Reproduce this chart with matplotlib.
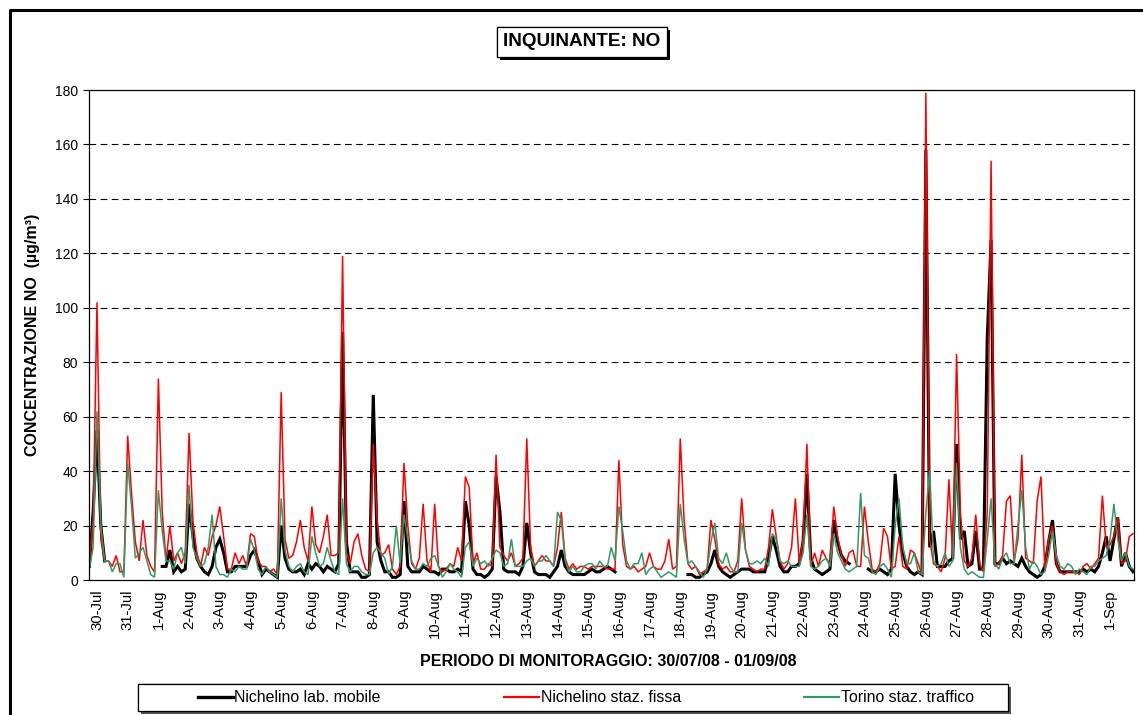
import numpy as np
import pandas as pd
import matplotlib
matplotlib.use("Agg")
import matplotlib.pyplot as plt
import matplotlib.patheffects as pe
from matplotlib.lines import Line2D
from matplotlib.patches import Rectangle

nan = np.nan

# 3-hourly values, starting 29-Jul 18:00, one row per day (00h .. 21h)
nichelino_mobile = [
    5, 25,
    55, 20, 7, nan, nan, nan, nan, nan,        # 30-Jul
    nan, nan, nan, nan, nan, nan, nan, nan,    # 31-Jul
    nan, 5, 5, 11, 3, 5, 3, 4,                 # 1-Aug
    28, 16, 8, 5, 3, 2, 5, 12,
    15, 10, 3, 3, 5, 5, 5, 5,
    9, 11, 7, 2, 4, 3, 2, 1,
    20, 8, 4, 3, 3, 4, 2, 6,                   # 5-Aug
    4, 6, 5, 3, 5, 4, 3, 6,
    91, 14, 3, 3, 3, 1, 1, 2,
    68, 14, 7, 3, 3, 1, 1, 2,
    29, 5, 3, 3, 3, 5, 4, 3,
    3, 2, 4, 4, 3, 3, 4, 3,                    # 10-Aug
    29, 20, 4, 2, 2, 1, 2, 4,
    38, 25, 4, 3, 3, 3, 2, 5,
    21, 10, 3, 2, 2, 2, 1, 3,
    5, 11, 5, 3, 2, 2, 2, 2,
    3, 4, 3, 3, 4, 5, 4, 3,                    # 15-Aug
    nan, nan, nan, nan, nan, nan, nan, nan,
    nan, nan, nan, nan, nan, nan, nan, nan,
    nan, nan, 2, 2, 1, 1, 2, 3,
    6, 11, 5, 3, 2, 1, 2, 3,
    4, 4, 4, 3, 3, 3, 3, 8,                    # 20-Aug
    16, 11, 5, 3, 3, 5, 5, 6,
    14, 39, 8, 4, 3, 2, 3, 4,
    22, 14, 9, 7, 6, nan, nan, nan,
    nan, 4, 3, 3, 4, 3, 2, 4,
    39, 20, 10, 5, 3, 2, 3, 2,                 # 25-Aug
    158, 12, 18, 5, 5, 5, 7, 8,
    50, 15, 18, 5, 6, 18, 4, 4,
    89, 125, 6, 6, 8, 6, 7, 6,
    5, 8, 5, 3, 2, 1, 2, 5,
    14, 22, 6, 3, 3, 3, 3, 3,                  # 30-Aug
    3, 4, 3, 4, 3, 5, 10, 16,
    7, 15, 23, 5, 10, 5, 3,                    # 1-Sep
]

nichelino_fissa = [
    6, 22,
    102, 15, 7, 7, 5, 9, 3, 3,                 # 30-Jul
    53, 32, 14, 7, 22, 9, 5, 3,
    74, 25, 7, 20, 7, 10, 6, 10,               # 1-Aug
    54, 22, 10, 5, 12, 9, 16, 20,
    27, 16, 4, 4, 10, 6, 9, 5,
    17, 16, 7, 5, 5, 3, 4, 2,
    69, 15, 8, 9, 14, 22, 12, 7,               # 5-Aug
    27, 13, 10, 16, 24, 9, 9, 10,
    119, 10, 6, 14, 17, 9, 4, 3,
    50, 22, 9, 10, 13, 4, 2, 5,
    43, 20, 6, 4, 8, 28, 7, 3,
    28, 5, 3, 4, 6, 5, 12, 7,                  # 10-Aug
    38, 34, 6, 10, 4, 4, 6, 5,
    46, 12, 9, 7, 10, 5, 6, 8,
    52, 12, 5, 7, 9, 7, 7, 5,
    12, 25, 8, 4, 6, 4, 5, 5,
    4, 5, 5, 5, 5, 4, 4, 4,                    # 15-Aug
    44, 13, 5, 4, 5, 3, 4, 5,
    10, 5, 4, 4, 7, 15, 4, 5,
    52, 22, 6, 4, 5, 2, 3, 4,
    22, 15, 6, 4, 5, 3, 3, 7,
    30, 11, 5, 4, 3, 4, 4, 12,                 # 20-Aug
    26, 16, 7, 4, 6, 12, 30, 6,
    15, 50, 5, 10, 5, 11, 8, 6,
    27, 16, 9, 5, 10, 11, 5, 5,
    27, 14, 4, 3, 6, 19, 16, 4,
    5, 16, 5, 4, 11, 10, 6, 2,                 # 25-Aug
    179, 15, 6, 5, 3, 8, 37, 8,
    83, 25, 7, 5, 8, 24, 6, 3,
    25, 154, 5, 6, 9, 29, 31, 7,
    15, 46, 8, 7, 6, 29, 38, 4,
    15, 20, 6, 3, 2, 3, 3, 3,                  # 30-Aug
    2, 5, 6, 4, 6, 8, 31, 12,
    13, 16, 23, 6, 7, 16, 17,                  # 1-Sep
]

torino_traffico = [
    4, 12,
    62, 20, 7, 7, 3, 6, 6, 1,                  # 30-Jul
    43, 27, 8, 10, 12, 7, 2, 1,
    33, 18, 7, 7, 4, 10, 12, 6,                # 1-Aug
    35, 12, 8, 5, 6, 12, 24, 5,
    2, 2, 1, 4, 3, 5, 4, 4,
    15, 11, 4, 2, 5, 3, 2, 1,
    30, 11, 5, 3, 5, 6, 3, 2,                  # 5-Aug
    16, 10, 5, 6, 12, 7, 3, 2,
    30, 6, 3, 5, 5, 3, 2, 2,
    10, 12, 10, 8, 2, 5, 20, 6,
    24, 15, 7, 4, 4, 6, 5, 8,
    9, 5, 1, 3, 6, 4, 3, 1,                    # 10-Aug
    12, 14, 5, 8, 6, 7, 5, 8,
    11, 10, 5, 6, 15, 5, 5, 5,
    7, 8, 5, 7, 7, 9, 7, 5,
    25, 22, 7, 3, 5, 3, 3, 5,
    6, 6, 4, 7, 5, 5, 12, 7,                   # 15-Aug
    27, 18, 7, 4, 6, 6, 10, 2,
    4, 5, 3, 1, 2, 3, 2, 1,
    28, 15, 6, 7, 5, 3, 1, 4,
    14, 21, 8, 6, 10, 5, 3, 3,
    21, 11, 6, 6, 7, 6, 8, 5,                  # 20-Aug
    17, 15, 7, 6, 7, 5, 5, 5,
    10, 24, 5, 4, 5, 7, 8, 5,
    17, 10, 7, 4, 3, 4, 5, 32,
    9, 8, 3, 2, 5, 6, 4, 1,
    20, 30, 12, 6, 6, 10, 3, 2,                # 25-Aug
    25, 40, 7, 5, 6, 10, 5, 7,
    43, 12, 4, 2, 3, 2, 1, 1,
    15, 30, 6, 4, 8, 10, 6, 6,
    20, 33, 12, 4, 7, 5, 2, 3,
    9, 18, 9, 5, 4, 6, 5, 2,                   # 30-Aug
    4, 3, 2, 5, 5, 7, 8, 9,
    15, 28, 15, 7, 10, 5, 4,                   # 1-Sep
]

series_names = ["Nichelino lab. mobile", "Nichelino staz. fissa", "Torino staz. traffico"]
series_colors = ["#000000", "#ff0000", "#339966"]
series_widths = [2.2, 1.1, 1.1]

day_labels = [d.strftime("%-d-%b") for d in pd.date_range("2008-07-30", "2008-09-01")]

plt.rcParams["font.family"] = ["Liberation Sans", "DejaVu Sans"]

W, H = 1143, 715
fig = plt.figure(figsize=(W / 100, H / 100), dpi=100)
ax = fig.add_axes([89 / W, 1 - 580 / H, (1134 - 89) / W, (580 - 90) / H])

x = -0.25 + np.arange(len(nichelino_fissa)) / 8.0
for vals, col, lw in zip([nichelino_mobile, nichelino_fissa, torino_traffico], series_colors, series_widths):
    ax.plot(x, np.array(vals, dtype=float), color=col, linewidth=lw, solid_joinstyle="miter")

ax.set_xlim(-0.26, 33.78)
ax.set_ylim(0, 180)
ax.set_yticks(np.arange(0, 181, 20))
ax.set_xticks(np.arange(len(day_labels)))
ax.set_xticklabels(day_labels, rotation=90)
ax.tick_params(axis="x", length=0, pad=7, labelsize=10.7)
ax.tick_params(axis="y", length=4, width=0.8, labelsize=10, pad=4)
for v in range(20, 180, 20):
    ax.axhline(v, color="black", linestyle=(0, (6, 4)), linewidth=0.8, zorder=0)
for s in ax.spines.values():
    s.set_linewidth(0.9)

fig.text(608 / W, 1 - 661 / H, "PERIODO DI MONITORAGGIO: 30/07/08 - 01/09/08",
         ha="center", va="center", fontweight="bold", fontsize=11.5)
fig.text(33 / W, 1 - 335 / H, "CONCENTRAZIONE NO  (µg/m³)", rotation=90,
         ha="center", va="center", fontweight="bold", fontsize=11.5)

title = fig.text(582 / W, 1 - 42 / H, "INQUINANTE: NO", ha="center", va="center",
                 fontsize=13.6, fontweight="bold",
                 bbox=dict(boxstyle="square,pad=0.35", facecolor="white", edgecolor="black", linewidth=0.9))
title.get_bbox_patch().set_path_effects([pe.withSimplePatchShadow(offset=(2, -2), shadow_rgbFace="black", alpha=1.0), pe.Normal()])

# legend box
box = Rectangle((138 / W, 1 - 711 / H), 870 / W, 27 / H, transform=fig.transFigure,
                facecolor="white", edgecolor="black", linewidth=0.9,
                path_effects=[pe.withSimplePatchShadow(offset=(2, -2), shadow_rgbFace="#555555", alpha=1.0), pe.Normal()])
fig.patches.append(box)
handles = [Line2D([], [], color=c, linewidth=2.4 if lw > 2 else 1.6) for c, lw in zip(series_colors, series_widths)]
fig.legend(handles, series_names, loc="center left", bbox_to_anchor=(198 / W, 1 - 698 / H), ncol=3,
           frameon=False, fontsize=11.4, handlelength=2.2, handletextpad=0.1, columnspacing=7.8,
           borderpad=0, borderaxespad=0)

# outer frame (only top and left edges visible)
fig.add_artist(Line2D([10 / W, 10 / W, 1.0], [0.0, 1 - 10 / H, 1 - 10 / H], transform=fig.transFigure,
                      color="black", linewidth=2.2))

fig.savefig("out.png", dpi=100)
